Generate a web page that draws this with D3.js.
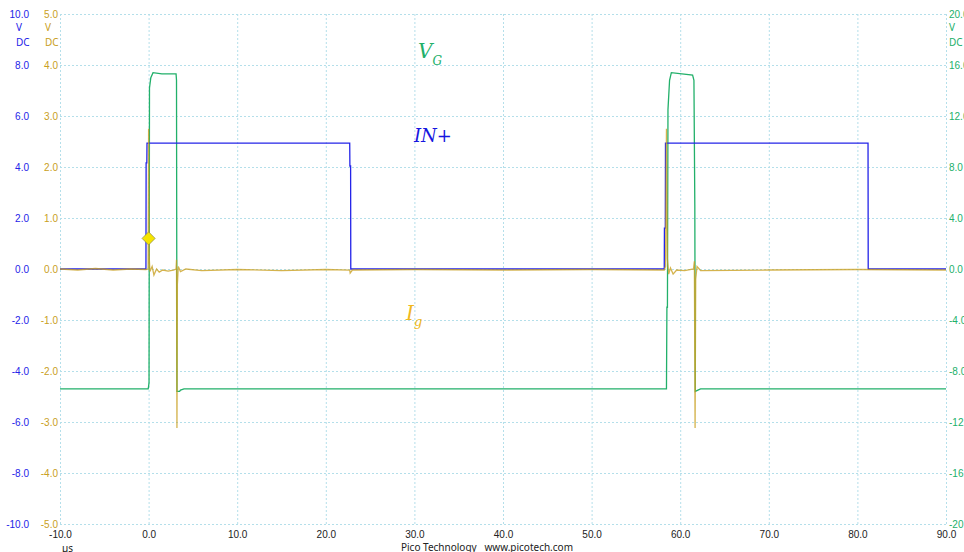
<!DOCTYPE html>
<html>
<head>
<meta charset="utf-8">
<script src="https://cdn.jsdelivr.net/npm/d3@7"></script>
<style>
  body { margin: 0; background: #fff; }
  svg { display: block; font-family: "Noto Sans", "Open Sans", sans-serif; }
  .grid line { stroke: #b4dfea; stroke-dasharray: 2,2; stroke-width: 1; }
  .grid path { display: none; }
  .axis path, .axis line { display: none; }
  .axis text { font-size: 10px; }
</style>
</head>
<body>
<div id="chart"></div>
<script>
// Data: time in us, values in each trace's own units
var xTicks = [-10, 0, 10, 20, 30, 40, 50, 60, 70, 80, 90];
var blueTicks = [-10, -8, -6, -4, -2, 0, 2, 4, 6, 8, 10];
var orangeTicks = [-5, -4, -3, -2, -1, 0, 1, 2, 3, 4, 5];
var greenTicks = [-20, -16, -12, -8, -4, 0, 4, 8, 12, 16, 20];

// IN+ (blue, left axis, V)
var inPlus = [[-10, 0], [-0.3, 0], [-0.28, 4.16], [-0.2, 4.16], [-0.18, 4.94], [22.7, 4.94], [22.72, 4.04],
  [22.8, 4.04], [22.82, 0], [58.2, 0], [58.22, 1.6], [58.32, 1.6], [58.34, 4.94], [81.2, 4.94], [81.22, 0], [90, 0]];

// V_G (green, right axis, V)
var vg = [[-10, -9.4], [-0.05, -9.4], [0.0, -9.2], [0.05, -8.9], [0.1, 14.2], [0.25, 15.0], [0.5, 15.4],
  [1.5, 15.3], [3.1, 15.3], [3.15, 14.8], [3.2, -9.6], [3.5, -9.6], [3.6, -9.5], [4.0, -9.4], [58.45, -9.4],
  [58.5, -3.0], [58.56, -3.0], [58.62, 12.5], [58.8, 14.8], [59.0, 15.4], [61.4, 15.2], [61.55, 14.8],
  [61.65, 5.0], [61.7, -9.6], [62.0, -9.5], [62.3, -9.4], [90, -9.4]];

// Ig (orange, second left axis)
var ig = [[-10, 0.0], [-8, -0.02], [-6, 0.01], [-4, -0.02], [-2, 0.0], [-0.3, -0.01], [-0.05, 0.0], [0.0, 2.75],
  [0.05, 0.3], [0.15, -0.05], [0.4, 0.05], [0.6, -0.12], [0.9, 0.0], [1.2, -0.06], [1.6, -0.02], [2.2, -0.04],
  [2.8, -0.02], [3.1, 0.0], [3.15, 0.18], [3.2, -3.12], [3.25, -0.3], [3.35, 0.05], [3.6, -0.05], [4.2, 0.0],
  [6, -0.03], [10, -0.01], [15, -0.03], [20, -0.01], [22.7, -0.02], [22.75, -0.08], [23, -0.02], [30, -0.01],
  [40, -0.02], [50, -0.01], [58.2, -0.02], [58.35, 0.05], [58.45, 2.75], [58.55, 0.2], [58.7, -0.1],
  [58.9, 0.02], [59.2, -0.1], [59.6, -0.02], [60.5, -0.03], [61.5, 0.0], [61.6, 0.15], [61.68, -3.12],
  [61.75, -0.2], [61.9, 0.05], [62.3, -0.03], [70, -0.02], [80, -0.01], [90, -0.02]];

// trigger marker (blue scale)
var trigger = [0, 1.2];

var width = 964;
var height = 552;
var plotLeft = 60, plotRight = 946, plotTop = 14, plotBottom = 524;

var blueColor = "#2424e8";
var orangeColor = "#c9a022";
var greenColor = "#22b06a";

var svg = d3.select("#chart").append("svg")
  .attr("width", width)
  .attr("height", height);

var x = d3.scaleLinear().domain([-10, 90]).range([plotLeft, plotRight]);
var yBlue = d3.scaleLinear().domain([-10, 10]).range([plotBottom, plotTop]);
var yOrange = d3.scaleLinear().domain([-5, 5]).range([plotBottom, plotTop]);
var yGreen = d3.scaleLinear().domain([-20, 20]).range([plotBottom, plotTop]);
var fmt = d => d.toFixed(1);

/* Grid */
svg.append("g")
  .attr("class", "grid")
  .attr("transform", `translate(0, ${plotBottom})`)
  .call(d3.axisBottom(x).tickValues(xTicks).tickSize(-(plotBottom - plotTop)).tickFormat(""));

svg.append("g")
  .attr("class", "grid")
  .attr("transform", `translate(${plotLeft}, 0)`)
  .call(d3.axisLeft(yBlue).tickValues(blueTicks).tickSize(-(plotRight - plotLeft)).tickFormat(""));

/* Axes */
svg.append("g")
  .attr("class", "axis")
  .attr("transform", `translate(0, ${plotBottom + 4})`)
  .call(d3.axisBottom(x).tickValues(xTicks).tickSize(0).tickFormat(fmt))
  .selectAll("text").attr("fill", "#222");

svg.append("g")
  .attr("class", "axis")
  .attr("transform", "translate(29, 0)")
  .call(d3.axisLeft(yBlue).tickValues(blueTicks).tickSize(0).tickPadding(0).tickFormat(fmt))
  .selectAll("text").attr("fill", blueColor);

svg.append("g")
  .attr("class", "axis")
  .attr("transform", "translate(58, 0)")
  .call(d3.axisLeft(yOrange).tickValues(orangeTicks).tickSize(0).tickPadding(0).tickFormat(fmt))
  .selectAll("text").attr("fill", orangeColor);

svg.append("g")
  .attr("class", "axis")
  .attr("transform", "translate(949, 0)")
  .call(d3.axisRight(yGreen).tickValues(greenTicks).tickSize(0).tickPadding(0).tickFormat(fmt))
  .selectAll("text").attr("fill", greenColor);

// units under top labels
[[16, blueColor], [45, orangeColor], [949, greenColor]].forEach(function (u) {
  svg.append("text").attr("x", u[0]).attr("y", 31).attr("font-size", "10px").attr("fill", u[1]).text("V");
  svg.append("text").attr("x", u[0]).attr("y", 46).attr("font-size", "10px").attr("fill", u[1]).text("DC");
});

svg.append("text").attr("x", 62).attr("y", 552).attr("font-size", "10px").attr("fill", "#222").text("µs");
svg.append("text").attr("x", 487).attr("y", 551).attr("font-size", "10px").attr("fill", "#222")
  .attr("text-anchor", "middle").attr("xml:space", "preserve").text("Pico Technology   www.picotech.com");

/* Traces */
var line = function (yScale) {
  return d3.line().x(d => x(d[0])).y(d => yScale(d[1]));
};

svg.append("path").datum(vg)
  .attr("d", line(yGreen))
  .attr("fill", "none").attr("stroke", greenColor).attr("stroke-width", 1.3);

svg.append("path").datum(inPlus)
  .attr("d", line(yBlue))
  .attr("fill", "none").attr("stroke", blueColor).attr("stroke-width", 1.3);

svg.append("path").datum(ig)
  .attr("d", line(yOrange))
  .attr("fill", "none").attr("stroke", orangeColor).attr("stroke-width", 1.3).attr("opacity", 0.8);

// trigger diamond
svg.append("path")
  .attr("d", d3.symbol().type(d3.symbolDiamond2).size(110)())
  .attr("transform", `translate(${x(trigger[0])}, ${yBlue(trigger[1])})`)
  .attr("fill", "#f5e400").attr("stroke", "#8a8a50").attr("stroke-width", 0.7);

/* Trace labels */
var vgLabel = svg.append("text").attr("x", 418).attr("y", 58)
  .attr("font-family", "'DejaVu Serif', 'Liberation Serif', serif").attr("font-style", "italic")
  .attr("fill", greenColor).attr("font-size", "20px");
vgLabel.append("tspan").text("V");
vgLabel.append("tspan").attr("font-size", "12px").attr("dy", 7).text("G");

svg.append("text").attr("x", 414).attr("y", 142)
  .attr("font-family", "'DejaVu Serif', 'Liberation Serif', serif").attr("font-style", "italic")
  .attr("fill", "#1515e0").attr("font-size", "18px").text("IN+");

var igLabel = svg.append("text").attr("x", 406).attr("y", 320)
  .attr("font-family", "'DejaVu Serif', 'Liberation Serif', serif").attr("font-style", "italic")
  .attr("fill", "#f0b820").attr("font-size", "20px");
igLabel.append("tspan").text("I");
igLabel.append("tspan").attr("font-size", "13px").attr("dy", 6).text("g");
</script>
</body>
</html>
